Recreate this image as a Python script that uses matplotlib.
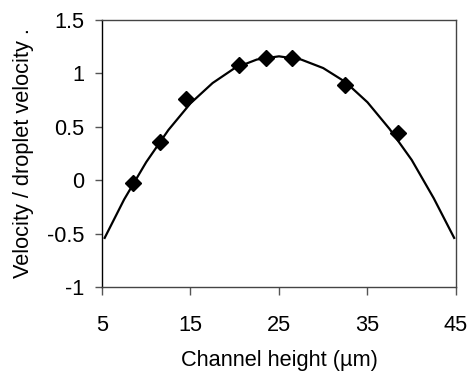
import matplotlib
matplotlib.use('Agg')
import matplotlib.pyplot as plt

plt.rcParams['font.family'] = ['Liberation Sans', 'DejaVu Sans']

# measured points
height = [8.5, 11.5, 14.5, 20.5, 23.5, 26.5, 32.5, 38.5]
ratio = [-0.03, 0.36, 0.76, 1.08, 1.14, 1.14, 0.89, 0.44]

# fitted curve
fit_x = [5.3, 7.5, 10, 12.5, 15, 17.5, 20, 22.5, 25, 27.5, 30, 32.5,
         35, 37.5, 40, 42.5, 44.8]
fit_y = [-0.54, -0.18, 0.17, 0.47, 0.72, 0.91, 1.05, 1.13, 1.16, 1.13,
         1.05, 0.92, 0.73, 0.48, 0.19, -0.17, -0.54]

xticks = [5, 15, 25, 35, 45]
yticks = [-1, -0.5, 0, 0.5, 1, 1.5]
ylabels = ['-1', '-0.5', '0', '0.5', '1', '1.5']

fig = plt.figure(figsize=(4.71, 3.79), dpi=100)
ax = fig.add_axes([0.2166, 0.2427, 0.7514, 0.7045])

ax.plot(fit_x, fit_y, color='black', lw=1.6, zorder=2)
ax.plot(height, ratio, 'D', color='black', markersize=8, zorder=3)

ax.set_xlim(5, 45)
ax.set_ylim(-1, 1.5)
ax.set_xticks(xticks)
ax.set_xticklabels([str(t) for t in xticks])
ax.set_yticks(yticks)
ax.set_yticklabels(ylabels)

ax.tick_params(axis='x', direction='out', length=6, width=1, pad=14,
               labelsize=15.7, color='#555555')
ax.tick_params(axis='y', direction='out', length=5, width=1, pad=8,
               labelsize=15.7, color='#555555')
for side in ['top', 'right', 'bottom']:
    ax.spines[side].set_color('#444444')
ax.spines['left'].set_color('black')
for s in ax.spines.values():
    s.set_linewidth(1)

ax.set_xlabel('Channel height (µm)', fontsize=15.7, labelpad=10)
ax.set_ylabel('Velocity / droplet velocity .', fontsize=15.7, labelpad=9)

fig.savefig('out.png', dpi=100)
